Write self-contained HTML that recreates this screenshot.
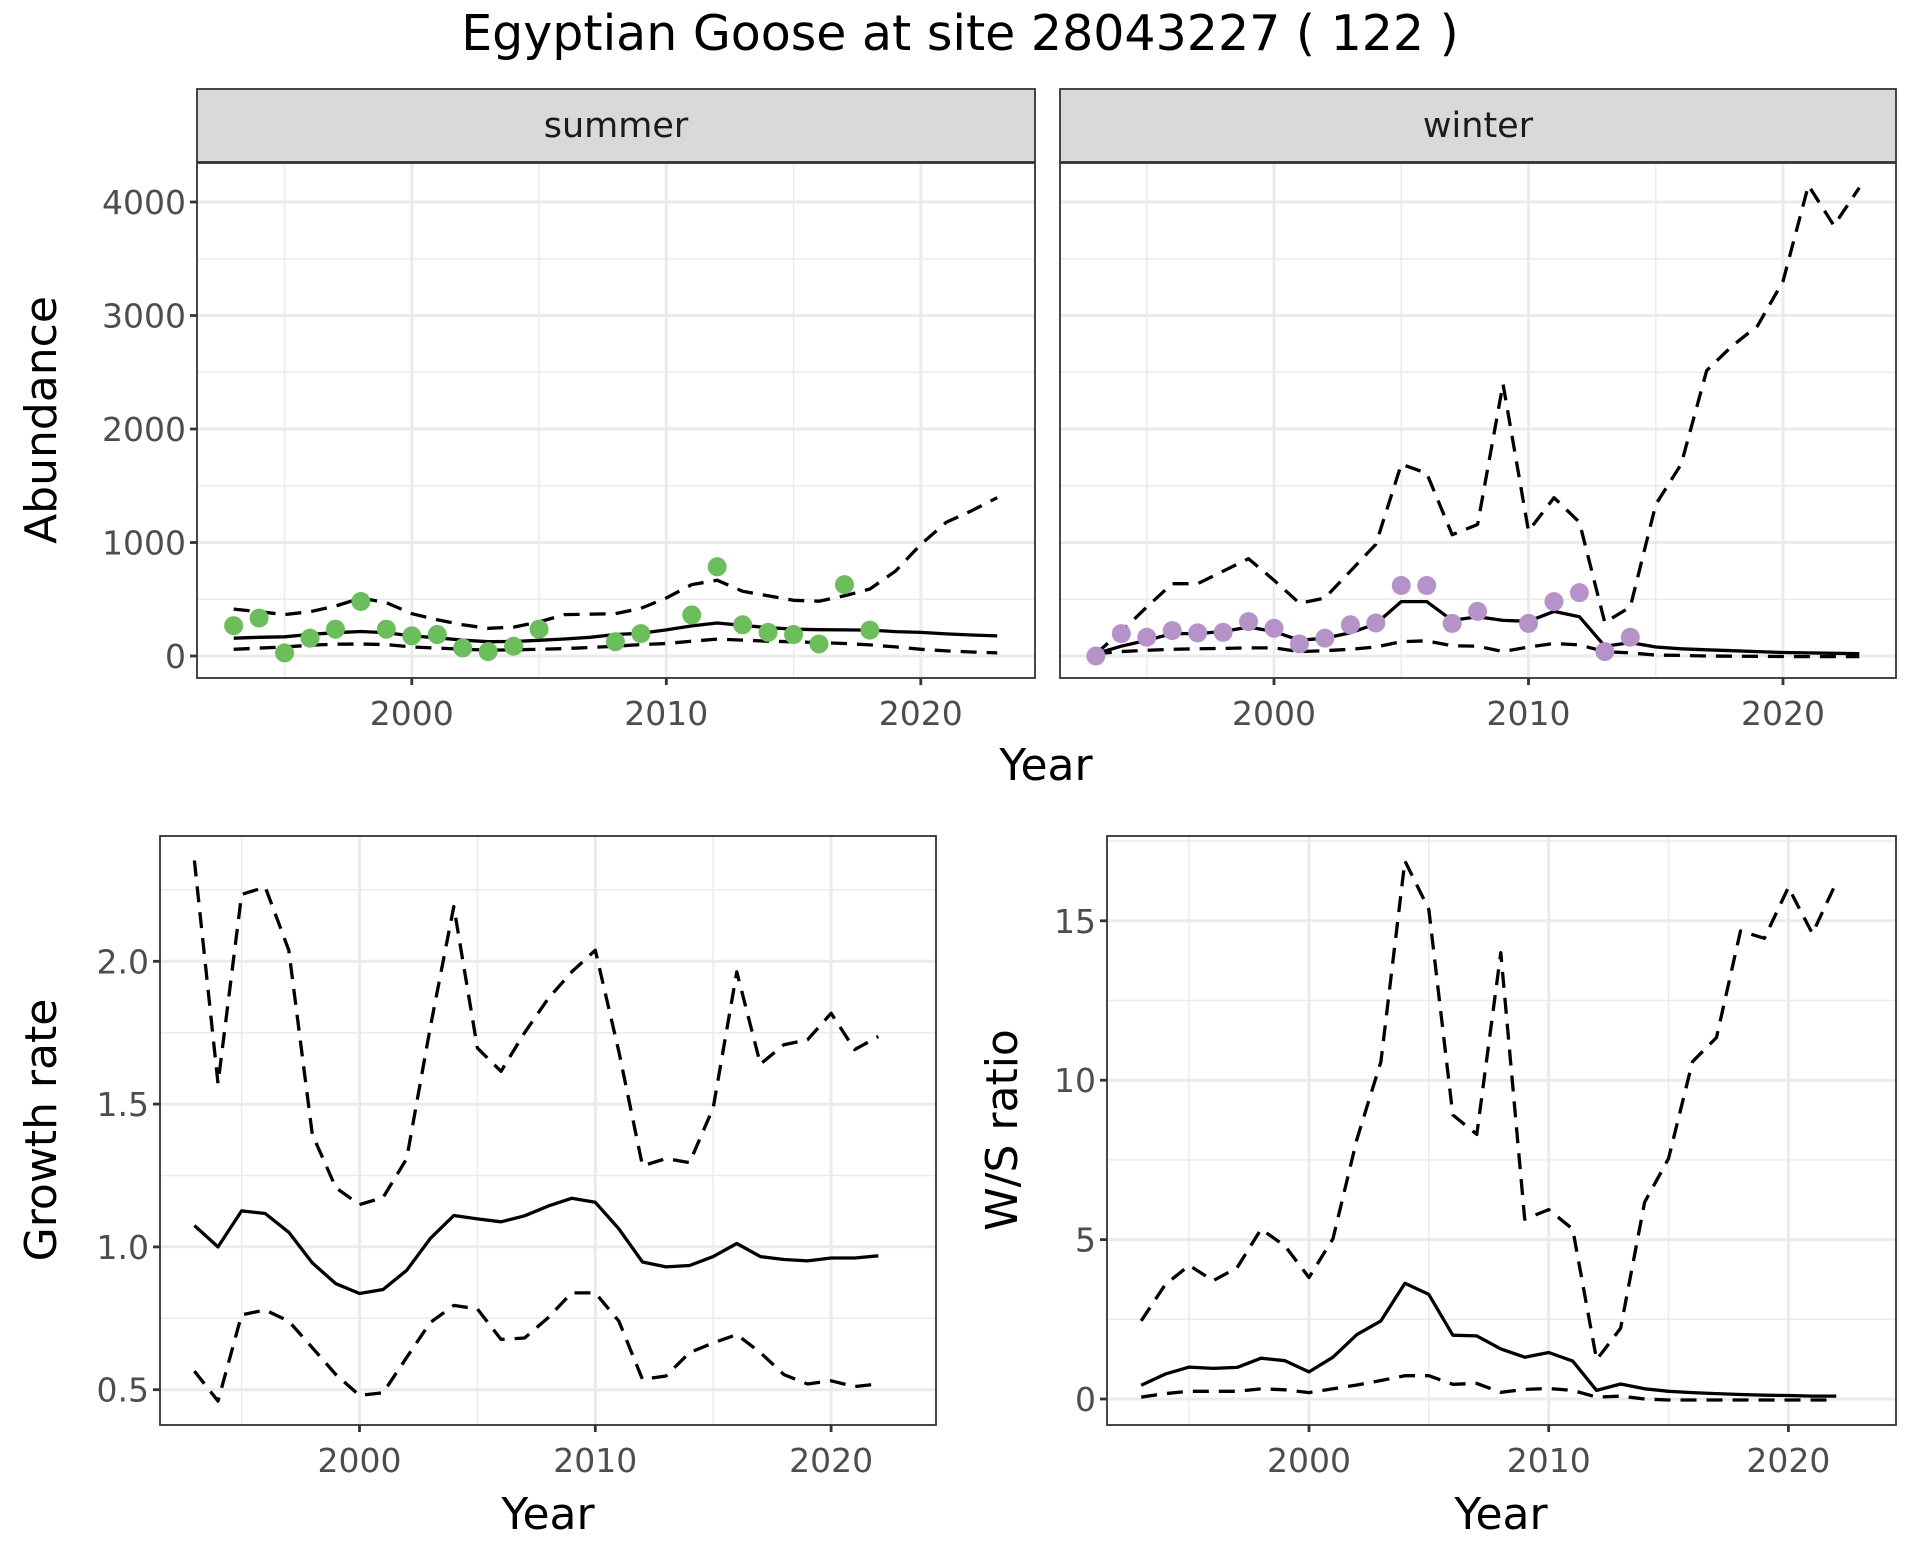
<!DOCTYPE html>
<html><head><meta charset="utf-8"><style>
html,body{margin:0;padding:0;background:#fff;}
svg{display:block;font-family:"DejaVu Sans","Liberation Sans",sans-serif;}
</style></head><body>
<svg id="chart" width="1920" height="1560" viewBox="0 0 1920 1560" xmlns="http://www.w3.org/2000/svg">
<rect x="0" y="0" width="1920" height="1560" fill="#fff"/>
<text x="960" y="50" font-size="49" text-anchor="middle" fill="#000">Egyptian Goose at site 28043227 ( 122 )</text>
</svg>
<script>
const years = [1993,1994,1995,1996,1997,1998,1999,2000,2001,2002,2003,2004,2005,2006,2007,2008,2009,2010,2011,2012,2013,2014,2015,2016,2017,2018,2019,2020,2021,2022,2023];
const summerPtYears = [1993,1994,1995,1996,1997,1998,1999,2000,2001,2002,2003,2004,2005,2008,2009,2011,2012,2013,2014,2015,2016,2017,2018];
const summerPts = [267,334,27,157,236,480,236,177,189,71,39,86,236,126,197,362,786,275,208,189,106,629,228];
const summerMean = [157,165,169,190,205,216,205,177,160,140,126,128,138,150,165,189,200,230,265,291,270,250,236,232,230,228,215,208,195,185,177];
const summerUpper = [413,390,365,390,440,511,470,373,320,275,244,255,300,365,368,373,420,511,629,668,570,530,491,483,530,590,747,983,1179,1280,1395];
const summerLower = [59,70,79,95,104,106,100,79,70,60,51,55,59,65,75,86,100,110,130,149,140,130,125,118,110,98,80,59,45,35,27];
const winterPtYears = [1993,1994,1995,1996,1997,1998,1999,2000,2001,2002,2003,2004,2005,2006,2007,2008,2010,2011,2012,2013,2014];
const winterPts = [0,197,165,224,204,208,303,244,106,157,275,291,621,621,287,393,287,479,558,39,165];
const winterMean = [20,86,138,197,197,216,255,216,138,157,204,283,479,479,314,346,314,306,393,346,86,118,79,63,55,47,39,31,27,24,20];
const winterUpper = [20,216,432,637,637,747,857,668,464,511,747,983,1690,1611,1069,1159,2397,1100,1395,1179,295,432,1336,1690,2515,2731,2908,3301,4146,3792,4126];
const winterLower = [20,39,50,59,63,67,71,71,39,47,59,79,126,134,90,86,39,79,110,98,39,27,8,5,0,-2,-3,-4,-5,-5,-5];
const ratioYears = [1993,1994,1995,1996,1997,1998,1999,2000,2001,2002,2003,2004,2005,2006,2007,2008,2009,2010,2011,2012,2013,2014,2015,2016,2017,2018,2019,2020,2021,2022];
const growthMean = [1.075,1.0,1.126,1.117,1.051,0.944,0.871,0.837,0.851,0.918,1.029,1.110,1.098,1.088,1.109,1.143,1.170,1.156,1.063,0.947,0.930,0.935,0.966,1.012,0.966,0.956,0.951,0.961,0.961,0.969];
const growthUpper = [2.353,1.572,2.234,2.260,2.039,1.394,1.207,1.148,1.173,1.309,1.767,2.192,1.696,1.615,1.750,1.869,1.963,2.039,1.683,1.284,1.309,1.295,1.487,1.963,1.640,1.708,1.725,1.818,1.691,1.737];
const growthLower = [0.565,0.460,0.762,0.779,0.740,0.647,0.553,0.480,0.489,0.613,0.735,0.795,0.783,0.676,0.681,0.752,0.839,0.839,0.740,0.536,0.548,0.630,0.664,0.693,0.630,0.553,0.520,0.531,0.511,0.520];
const wsMean = [0.43,0.78,1.0,0.96,0.99,1.28,1.2,0.85,1.31,2.02,2.45,3.63,3.28,2.0,1.98,1.57,1.31,1.46,1.19,0.27,0.47,0.32,0.24,0.2,0.17,0.14,0.12,0.11,0.09,0.09];
const wsUpper = [2.45,3.59,4.19,3.71,4.12,5.33,4.8,3.81,5.03,8.15,10.58,16.88,15.36,8.91,8.3,14.0,5.64,5.94,5.33,1.23,2.22,6.17,7.54,10.58,11.34,14.68,14.45,16.05,14.6,16.2];
const wsLower = [0.06,0.17,0.24,0.24,0.24,0.32,0.29,0.2,0.32,0.44,0.58,0.73,0.73,0.46,0.49,0.21,0.3,0.33,0.27,0.06,0.09,0,-0.03,-0.03,-0.03,-0.03,-0.03,-0.03,-0.03,-0.03];
const abundTicks = [0,1000,2000,3000,4000];
const abundMinor = [500,1500,2500,3500];
const yearTicks = [2000,2010,2020];
const yearMinor = [1995,2005,2015];
const growthTicks = [0.5,1.0,1.5,2.0];
const growthMinor = [0.75,1.25,1.75,2.25];
const wsTicks = [0,5,10,15];
const wsMinor = [2.5,7.5,12.5,17.5];

const NS = 'http://www.w3.org/2000/svg';
const svg = document.getElementById('chart');
const TICKFS = 33, TITLEFS = 44;
function mk(tag, attrs, parent){
  const e = document.createElementNS(NS, tag);
  for (const k in attrs) e.setAttribute(k, attrs[k]);
  (parent||svg).appendChild(e);
  return e;
}
function panel(name, L, R, T, B, xs, ys, xTicks, xMinor, yTicks, yMinor, yFmt, showY){
  const g = mk('g', {});
  
  
  mk('rect', {x:L, y:T, width:R-L, height:B-T, fill:'#fff'}, g);
  xMinor.forEach(v => { const x = xs(v); if (x>L && x<R) mk('line',{x1:x,x2:x,y1:T,y2:B,stroke:'#ebebeb','stroke-width':1.5}, g); });
  yMinor.forEach(v => { const y = ys(v); if (y>T && y<B) mk('line',{x1:L,x2:R,y1:y,y2:y,stroke:'#ebebeb','stroke-width':1.5}, g); });
  xTicks.forEach(v => { const x = xs(v); mk('line',{x1:x,x2:x,y1:T,y2:B,stroke:'#ebebeb','stroke-width':3}, g); });
  yTicks.forEach(v => { const y = ys(v); mk('line',{x1:L,x2:R,y1:y,y2:y,stroke:'#ebebeb','stroke-width':3}, g); });
  xTicks.forEach(v => {
    const x = xs(v);
    mk('line',{x1:x,x2:x,y1:B,y2:B+7,stroke:'#333','stroke-width':2.8}, g);
    const t = mk('text',{x:x, y:B+47, 'font-size':TICKFS, 'text-anchor':'middle', fill:'#4d4d4d'}, g);
    
    
    t.textContent = v;
  });
  if (showY) yTicks.forEach(v => {
    const y = ys(v);
    mk('line',{x1:L-7,x2:L,y1:y,y2:y,stroke:'#333','stroke-width':2.8}, g);
    const t = mk('text',{x:L-11, y:y+12, 'font-size':TICKFS, 'text-anchor':'end', fill:'#4d4d4d'}, g);
    
    
    t.textContent = yFmt(v);
  });
  return g;
}
function line(g, name, xsArr, vals, xs, ys, dashed){
  const d = vals.map((v,i)=>(i?'L':'M')+xs(xsArr[i]).toFixed(1)+','+ys(v).toFixed(1)).join('');
  const p = mk('path',{d:d, fill:'none', stroke:'#000', 'stroke-width':3.3, 'stroke-linejoin':'round'}, g);
  if (dashed) p.setAttribute('stroke-dasharray','16,10');
  
  
}
function points(g, name, xsArr, vals, xs, ys, color){
  vals.forEach((v,i)=>{
    const c = mk('circle',{cx:xs(xsArr[i]), cy:ys(v), r:9.5, fill:color}, g);
    
    
  });
}
function border(g, L,R,T,B){ mk('rect',{x:L,y:T,width:R-L,height:B-T,fill:'none',stroke:'#333','stroke-width':1.8}, g); }
function strip(label, L, R){
  const g = mk('g', {});
  
  
  mk('rect',{x:L,y:89,width:R-L,height:73,fill:'#d9d9d9',stroke:'#333','stroke-width':1.8}, g);
  const t = mk('text',{x:(L+R)/2, y:137, 'font-size':35, 'text-anchor':'middle', fill:'#1a1a1a'}, g);
  t.textContent = label;
}
function ylabel(txt, x, y, name){
  const t = mk('text',{x:x, y:y, 'font-size':TITLEFS, 'text-anchor':'middle', fill:'#000', transform:'rotate(-90 '+x+' '+y+')'});
  
  
  t.textContent = txt;
}
function xlabel(txt, x, y, name){
  const t = mk('text',{x:x, y:y, 'font-size':TITLEFS, 'text-anchor':'middle', fill:'#000'});
  
  
  t.textContent = txt;
}
const int = v => String(v);
const one = v => v.toFixed(1);

// Summer
const sT=163, sB=678;
const sy = v => 656 - v*(454/4000);
const sx = yr => 411.8 + (yr-2000)*25.45;
strip('summer', 197, 1035);
let g = panel('summer-panel', 197, 1035, sT, sB, sx, sy, yearTicks, yearMinor, abundTicks, abundMinor, int, true);
line(g,'summer-upper-line',years,summerUpper,sx,sy,true);
line(g,'summer-lower-line',years,summerLower,sx,sy,true);
line(g,'summer-mean-line',years,summerMean,sx,sy,false);
points(g,'summer-point',summerPtYears,summerPts,sx,sy,'#6cbd5c');
border(g,197,1035,sT,sB);

// Winter
const wx = yr => 1274 + (yr-2000)*25.45;
strip('winter', 1060, 1896);
g = panel('winter-panel', 1060, 1896, sT, sB, wx, sy, yearTicks, yearMinor, abundTicks, abundMinor, int, false);
line(g,'winter-upper-line',years,winterUpper,wx,sy,true);
line(g,'winter-lower-line',years,winterLower,wx,sy,true);
line(g,'winter-mean-line',years,winterMean,wx,sy,false);
points(g,'winter-point',winterPtYears,winterPts,wx,sy,'#b592c8');
border(g,1060,1896,sT,sB);
ylabel('Abundance', 56, 420, 'abundance-axis-title');
xlabel('Year', 1046, 780, 'top-x-axis-title');

// Growth
const gx = yr => 359.5 + (yr-2000)*23.58;
const gy = v => 1246.9 - (v-1)*285.6;
g = panel('growth-panel', 160, 936, 836, 1425, gx, gy, yearTicks, yearMinor, growthTicks, growthMinor, one, true);
line(g,'growth-upper-line',ratioYears,growthUpper,gx,gy,true);
line(g,'growth-lower-line',ratioYears,growthLower,gx,gy,true);
line(g,'growth-mean-line',ratioYears,growthMean,gx,gy,false);
border(g,160,936,836,1425);
ylabel('Growth rate', 56, 1130, 'growth-axis-title');
xlabel('Year', 548, 1529, 'growth-x-axis-title');

// W/S ratio
const rx = yr => 1309 + (yr-2000)*23.97;
const ry = v => 1399 - v*31.88;
g = panel('ws-panel', 1107, 1896, 836, 1425, rx, ry, yearTicks, yearMinor, wsTicks, wsMinor, int, true);
line(g,'ws-upper-line',ratioYears,wsUpper,rx,ry,true);
line(g,'ws-lower-line',ratioYears,wsLower,rx,ry,true);
line(g,'ws-mean-line',ratioYears,wsMean,rx,ry,false);
border(g,1107,1896,836,1425);
ylabel('W/S ratio', 1017, 1130, 'ws-axis-title');
xlabel('Year', 1501, 1529, 'ws-x-axis-title');
</script>
</body></html>
